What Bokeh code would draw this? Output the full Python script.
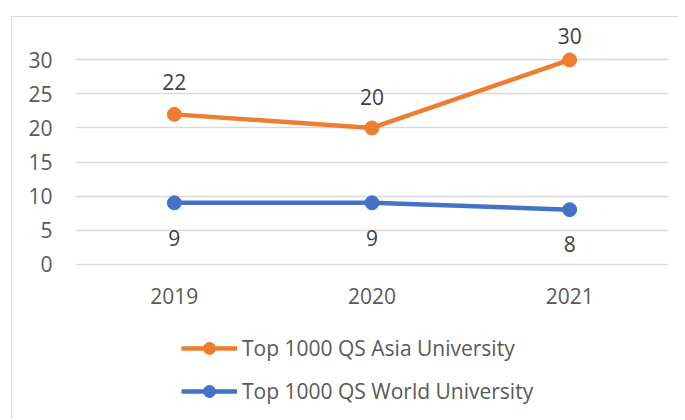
from bokeh.plotting import figure
from bokeh.layouts import column
from bokeh.models import Range1d, FactorRange, FixedTicker, Legend, LegendItem, ColumnDataSource
from bokeh.embed import file_html
from bokeh.resources import INLINE
from bokeh.core.properties import value

years = ["2019", "2020", "2021"]
asia = [22, 20, 30]
world = [9, 9, 8]
y_ticks = [0, 5, 10, 15, 20, 25, 30]
asia_name = "Top 1000 QS Asia University"
world_name = "Top 1000 QS World University"

FONT = "Open Sans"
FS = "21px"
ORANGE = "#ED7D31"
BLUE = "#4472C4"

# label offsets (style): the top label is kept inside the chart area
asia_off = [-32, -31, -24]
world_off = [35, 35, 34]

p = figure(frame_width=593, frame_height=245, x_range=FactorRange(*years), y_range=Range1d(-0.5, 35.5),
           output_backend="svg", toolbar_location=None,
           min_border_left=63, min_border_right=10, min_border_top=5, min_border_bottom=60)
p.outline_line_color = None
p.background_fill_color = "white"
p.border_fill_color = "white"

p.xgrid.grid_line_color = None
p.ygrid.grid_line_color = "#D9D9D9"
p.ygrid.grid_line_width = 1.3
p.yaxis.ticker = FixedTicker(ticks=y_ticks)

for ax in (p.xaxis[0], p.yaxis[0]):
    ax.axis_line_color = None
    ax.major_tick_line_color = None
    ax.minor_tick_line_color = None
    ax.major_tick_out = 0
    ax.major_tick_in = 0
    ax.major_label_text_font = FONT
    ax.major_label_text_font_size = FS
    ax.major_label_text_color = "#595959"
p.yaxis.major_label_standoff = 23
p.xaxis.major_label_standoff = 20

src_a = ColumnDataSource(dict(x=years, y=asia, t=[str(v) for v in asia], off=asia_off))
src_w = ColumnDataSource(dict(x=years, y=world, t=[str(v) for v in world], off=world_off))

p.line("x", "y", source=src_a, line_color=ORANGE, line_width=4.5)
p.scatter("x", "y", source=src_a, size=14, fill_color=ORANGE, line_color=ORANGE)
p.line("x", "y", source=src_w, line_color=BLUE, line_width=4.5)
p.scatter("x", "y", source=src_w, size=14, fill_color=BLUE, line_color=BLUE)

p.text("x", "y", text="t", source=src_a, text_align="center", text_baseline="middle",
       y_offset="off", text_font=value(FONT), text_font_size=FS, text_color="#404040")
p.text("x", "y", text="t", source=src_w, text_align="center", text_baseline="middle",
       y_offset="off", text_font=value(FONT), text_font_size=FS, text_color="#404040")

# legend panel below the chart (its own view range lies outside the data, so only the legend shows)
q = figure(width=666, height=92, x_range=FactorRange(*years), y_range=Range1d(1000, 1001),
           x_axis_type=None, y_axis_type=None, output_backend="svg", toolbar_location=None,
           min_border=0)
q.outline_line_color = None
q.xgrid.visible = False
q.ygrid.visible = False
q.border_fill_color = "white"

ka = q.line("x", "y", source=src_a, line_color=ORANGE, line_width=4.5)
kas = q.scatter("x", "y", source=src_a, size=14, fill_color=ORANGE, line_color=ORANGE)
kw = q.line("x", "y", source=src_w, line_color=BLUE, line_width=4.5)
kws = q.scatter("x", "y", source=src_w, size=14, fill_color=BLUE, line_color=BLUE)

legend = Legend(items=[LegendItem(label=asia_name, renderers=[ka, kas]),
                       LegendItem(label=world_name, renderers=[kw, kws])],
                location=(106, 13), orientation="vertical",
                padding=0, margin=0, spacing=13, label_standoff=5,
                glyph_width=56, glyph_height=30, label_height=30,
                label_text_font=FONT, label_text_font_size=FS, label_text_color="#595959",
                border_line_color=None, background_fill_alpha=0)
q.add_layout(legend, "center")

layout = column(p, q, spacing=0, margin=(16, 0, 0, 11),
                styles={"border-left": "1px solid #D9D9D9", "border-top": "1px solid #D9D9D9"})

open("out.html", "w").write(file_html(layout, INLINE))
